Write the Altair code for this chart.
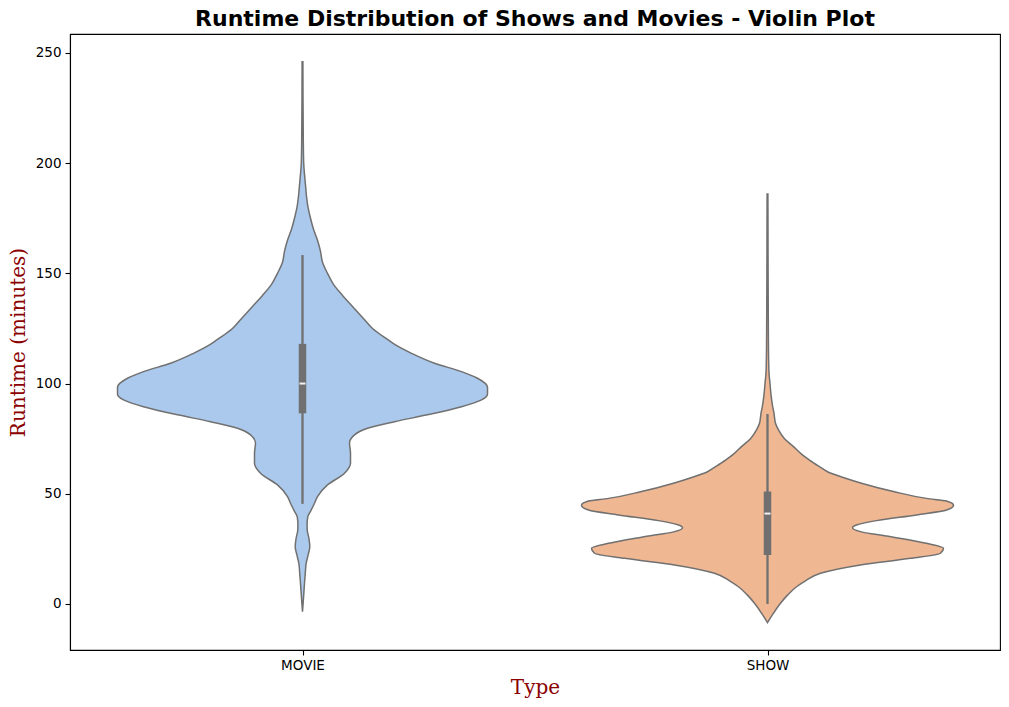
import altair as alt
import pandas as pd

categories = ["MOVIE", "SHOW"]
fill_colors = ["#abc9ec", "#f0b793"]
edge_color = "#707070"

# half-width of each violin (px at full scale, max ~186)
movie_runtime = [-3.5, 4, 9.4, 14, 18.5, 22, 26, 30, 33.6, 36, 39.6, 42, 45.7, 48.7, 54,
                 59.3, 63.8, 68.4, 72.9, 76.7, 79.7, 82.7, 85.8, 89.5, 92.6, 95.3, 98.3,
                 102.4, 105.4, 109.2, 113.7, 117.5, 120, 125, 130, 135, 140, 145, 150,
                 155, 160, 165, 170, 175, 180, 185, 190, 195, 200, 210, 230, 246]
movie_width = [0, 1.2, 2, 2.8, 3.7, 5.5, 7.3, 6.3, 4.7, 4.6, 5.3, 8, 12, 15, 25,
               42, 48, 48, 47, 52, 65, 92, 125, 159, 179, 185, 185,
               175, 159, 132, 109, 93, 85, 70, 60, 50, 40, 31, 25,
               20, 18, 15, 11, 8, 5.5, 4, 3, 2, 1.2, 0.8, 0.5, 0.4]

show_runtime = [-8.5, -4.2, 0.3, 4, 7.8, 10.5, 13.9, 17.7, 20.7, 23, 25.3, 27.5, 30.3,
                32.8, 34.6, 35.8, 37.8, 40.4, 42.6, 44.8, 46.7, 47.9, 51, 54.8, 57.5,
                60, 62.3, 65.3, 68, 71.4, 75, 79, 82, 86.5, 90, 95, 100, 105, 115,
                130, 150, 170, 186]
show_width = [0, 6, 13, 20, 29, 38, 53, 93, 143, 173, 176, 159, 126,
              93, 85, 89, 109, 149, 179, 186, 179, 159, 126, 94, 75,
              60, 52, 42, 34, 26, 17, 11, 8, 6.5, 5, 3.5, 2.5, 1.5, 1,
              0.8, 0.6, 0.5, 0.4]

# inner box plot
q1 = [86.5, 22.2]
q3 = [118, 51]
median = [100, 41]
whisker_lo = [45.4, 0]
whisker_hi = [158.3, 86.2]

rows = []
for i, (rt, wd) in enumerate([(movie_runtime, movie_width), (show_runtime, show_width)]):
    for r, w in zip(rt, wd):
        half = 0.4 * w / 186
        rows.append({"type": categories[i], "pos": i, "runtime": r,
                     "x_lo": i - half, "x_hi": i + half})
violins = pd.DataFrame(rows)

boxes = pd.DataFrame({"type": categories, "pos": [0, 1], "q1": q1, "q3": q3,
                      "median": median, "lo": whisker_lo, "hi": whisker_hi})

x_scale = alt.Scale(domain=[-0.5, 1.5], nice=False, zero=False)
y_scale = alt.Scale(domain=[-20.9, 258.6], nice=False, zero=False)
x_axis = alt.Axis(values=[0, 1], labelExpr=f"{categories}[datum.value]",
                  titleY=43, titleBaseline="alphabetic")
y_axis = alt.Axis(values=[0, 50, 100, 150, 200, 250], titleX=-46, titleY=308,
                  titleAngle=-90, titleAlign="center", titleBaseline="alphabetic")

violin = alt.Chart(violins).mark_area(
    orient="horizontal", interpolate="monotone", stroke=edge_color,
    strokeWidth=1.5, opacity=1
).encode(
    y=alt.Y("runtime:Q", scale=y_scale, axis=y_axis, title="Runtime (minutes)"),
    x=alt.X("x_lo:Q", scale=x_scale, axis=x_axis, title="Type"),
    x2="x_hi:Q",
    color=alt.Color("type:N", scale=alt.Scale(domain=categories, range=fill_colors),
                    legend=None),
    detail="type:N",
)

base = alt.Chart(boxes)
whisker = base.mark_rule(color=edge_color, strokeWidth=2.3).encode(
    x=alt.X("pos:Q", scale=x_scale, title="Type"),
    y=alt.Y("lo:Q", scale=y_scale, title="Runtime (minutes)"),
    y2="hi:Q",
)
box = base.mark_rule(color=edge_color, strokeWidth=7.5, strokeCap="butt").encode(
    x=alt.X("pos:Q", scale=x_scale, title="Type"),
    y=alt.Y("q1:Q", scale=y_scale, title="Runtime (minutes)"),
    y2="q3:Q",
)
mid = base.mark_tick(orient="horizontal", color="#f2f2f2", size=6, thickness=2,
                     opacity=1).encode(
    x=alt.X("pos:Q", scale=x_scale, title="Type"),
    y=alt.Y("median:Q", scale=y_scale, title="Runtime (minutes)"),
)

chart = alt.layer(violin, whisker, box, mid).properties(
    width=930,
    height=616,
    autosize=alt.AutoSizeParams(type="none"),
    padding={"left": 62, "top": 26, "right": 1, "bottom": 49},
    title=alt.Title("Runtime Distribution of Shows and Movies - Violin Plot",
                    font="DejaVu Sans", fontSize=22, fontWeight="bold",
                    color="black", anchor="middle", offset=3),
).configure_axis(
    grid=False,
    domainColor="black",
    domainWidth=1.1,
    tickColor="black",
    tickSize=5,
    tickWidth=1.1,
    labelFont="DejaVu Sans",
    labelFontSize=13.5,
    labelColor="black",
    labelPadding=4,
    titleFont="DejaVu Serif",
    titleFontSize=20,
    titleFontWeight="normal",
    titleColor="#8b0000",
).configure_axisX(
    labelAngle=0,
    labelPadding=3,
).configure_view(
    stroke="black",
    strokeWidth=1.1,
)

chart.save("out.html", embed_options={"renderer": "svg", "actions": False})
